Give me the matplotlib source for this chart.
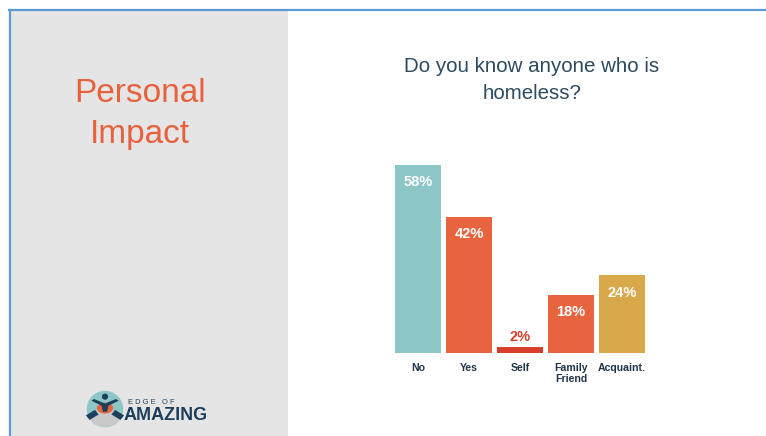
import matplotlib
matplotlib.use("Agg")
import matplotlib.pyplot as plt
from matplotlib.patches import Rectangle, Circle, Polygon, Ellipse
from matplotlib.lines import Line2D

# Survey data
categories = ["No", "Yes", "Self", "Family\nFriend", "Acquaint."]
values = [58, 42, 2, 18, 24]
value_labels = ["58%", "42%", "2%", "18%", "24%"]
colors = ["#8CC6C6", "#E8643F", "#D63F2A", "#E8643F", "#D9A84A"]

title = "Do you know anyone who is\nhomeless?"
section = "Personal\nImpact"

W, H = 766, 436
fig = plt.figure(figsize=(W / 100, H / 100), dpi=100)
fig.patch.set_facecolor("white")
plt.rcParams["font.family"] = ["Liberation Sans", "DejaVu Sans"]


def fx(px):
    return px / W


def fy(py):
    return 1 - py / H


# Left grey panel and slide frame
fig.add_artist(Rectangle((fx(9), 0), fx(288) - fx(9), fy(11), transform=fig.transFigure,
                         facecolor="#E5E5E5", edgecolor="none", zorder=0))
fig.add_artist(Line2D([fx(9), 1], [fy(10.5), fy(10.5)], transform=fig.transFigure,
                      color="#5B9BD5", lw=1.6, zorder=2))
fig.add_artist(Line2D([fx(9.5), fx(9.5)], [0, fy(10.5)], transform=fig.transFigure,
                      color="#5B9BD5", lw=1.6, zorder=2))

fig.text(fx(140), fy(114), section, ha="center", va="center", color="#E8603C",
         fontsize=24, linespacing=1.42)

fig.text(fx(532), fy(80), title, ha="center", va="center", color="#2C4A60",
         fontsize=14.8, linespacing=1.5)

# Bar chart
left, right = 392.5, 647.5
bottom, top_px = 353, 353 - 60 * (188 / 58)
ax = fig.add_axes([fx(left), fy(bottom), fx(right) - fx(left), (bottom - top_px) / H])
x = range(len(categories))
ax.bar(x, values, width=0.92, color=colors, edgecolor="none")
ax.set_xlim(-0.5, len(categories) - 0.5)
ax.set_ylim(0, 60)
ax.axis("off")
for i, (v, lab) in enumerate(zip(values, value_labels)):
    if v < 5:
        ax.annotate(lab, (i, v), xytext=(0, 2), textcoords="offset points",
                    ha="center", va="bottom", color="#D63F2A", fontsize=10.5,
                    fontweight="bold")
    else:
        ax.annotate(lab, (i, v), xytext=(0, -7.5), textcoords="offset points",
                    ha="center", va="top", color="white", fontsize=10.5,
                    fontweight="bold")
    ax.annotate(categories[i], (i, 0), xytext=(0, -7.5), textcoords="offset points",
                ha="center", va="top", color="#1E3448", fontsize=7.6,
                fontweight="bold", linespacing=1.1, annotation_clip=False)

# Logo
lax = fig.add_axes([fx(85), fy(429), fx(40), 40 / H])
lax.set_xlim(-1.1, 1.1)
lax.set_ylim(-1.1, 1.1)
lax.set_aspect("equal")
lax.axis("off")
lax.add_patch(Circle((0, 0), 1.0, facecolor="#8CC6C6", edgecolor="none"))
lax.add_patch(Polygon([(-0.9, -0.45), (0, 0.35), (0.9, -0.45), (0.6, -0.85), (0, -1.0),
                       (-0.6, -0.85)], closed=True, facecolor="#C9C9C9", edgecolor="none"))
lax.add_patch(Ellipse((0, 0.05), 0.9, 0.6, facecolor="#E8643F", edgecolor="none"))
lax.add_patch(Polygon([(-0.75, 0.45), (0, 0.1), (0.75, 0.45), (0.6, 0.55), (0, 0.3),
                       (-0.6, 0.55)], closed=True, facecolor="#1E3F5C", edgecolor="none"))
lax.add_patch(Circle((0, 0.68), 0.17, facecolor="#1E3F5C", edgecolor="none"))
lax.add_patch(Polygon([(-0.2, 0.25), (0.2, 0.25), (0.12, -0.15), (-0.12, -0.15)],
                      closed=True, facecolor="#1E3F5C", edgecolor="none"))
lax.add_patch(Polygon([(-1.05, -0.35), (-0.55, -0.05), (-0.35, -0.3), (-0.85, -0.6)],
                      closed=True, facecolor="#1E3F5C", edgecolor="none"))
lax.add_patch(Polygon([(1.05, -0.35), (0.55, -0.05), (0.35, -0.3), (0.85, -0.6)],
                      closed=True, facecolor="#1E3F5C", edgecolor="none"))

fig.text(fx(128.5), fy(402), "E D G E   O F", ha="left", va="center", color="#1E3F5C",
         fontsize=5.4)
fig.text(fx(124), fy(415), "AMAZING", ha="left", va="center", color="#1E3F5C",
         fontsize=13, fontweight="bold")

fig.savefig("out.png", dpi=100)
